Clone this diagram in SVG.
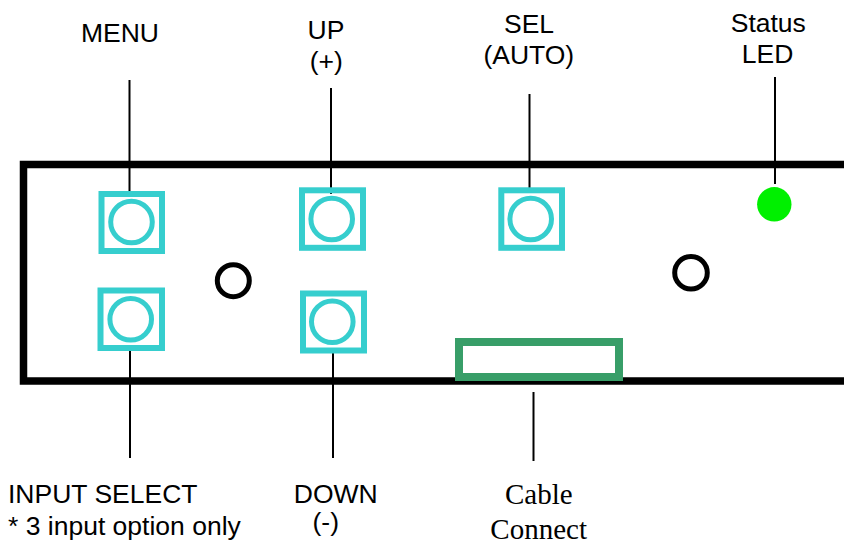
<svg xmlns="http://www.w3.org/2000/svg" width="844" height="544" viewBox="0 0 844 544">
<style>
.btn{fill:none;stroke:#36CECE;stroke-width:6}
.knob{fill:none;stroke:#36CECE;stroke-width:5}
.hole{fill:none;stroke:#000;stroke-width:5}
.lead{stroke:#000;stroke-width:2;fill:none}
.lbl{font-family:"Liberation Sans",Arial,sans-serif;font-size:26.5px;fill:#000}
.lblc{font-family:"Liberation Sans",Arial,sans-serif;font-size:26.5px;fill:#000;text-anchor:middle}
.serif{font-family:"Liberation Serif","Times New Roman",serif;font-size:29px;fill:#000;text-anchor:middle}
</style>
<rect width="844" height="544" fill="#fff"/>
<g id="panel">
<path d="M 850 164.5 H 23.5 V 381 H 850" fill="none" stroke="#000" stroke-width="7.5"/>
</g>
<g id="connectors">
<line class="lead" x1="129.5" y1="80" x2="129.5" y2="194"/>
<line class="lead" x1="130" y1="351" x2="130" y2="458"/>
<line class="lead" x1="331" y1="88" x2="331" y2="194"/>
<line class="lead" x1="333" y1="353" x2="333" y2="458"/>
<line class="lead" x1="529.5" y1="94" x2="529.5" y2="192"/>
<line class="lead" x1="533.5" y1="392" x2="533.5" y2="461"/>
<line class="lead" x1="775" y1="77" x2="775" y2="184"/>
</g>
<g id="menu-button">
<rect class="btn" x="101.5" y="194" width="60.5" height="57"/>
<circle class="knob" cx="131.5" cy="222" r="20.8"/>
</g>
<g id="input-select-button">
<rect class="btn" x="100.5" y="290.5" width="61.5" height="57.5"/>
<circle class="knob" cx="130.7" cy="319.3" r="20.8"/>
</g>
<g id="up-button">
<rect class="btn" x="302" y="190.3" width="61" height="57.5"/>
<circle class="knob" cx="331.7" cy="219" r="20.8"/>
</g>
<g id="down-button">
<rect class="btn" x="303" y="293.5" width="61" height="57"/>
<circle class="knob" cx="332.3" cy="321.7" r="20.8"/>
</g>
<g id="sel-button">
<rect class="btn" x="501.3" y="190.3" width="60.7" height="57.5"/>
<circle class="knob" cx="530.7" cy="219" r="20.8"/>
</g>
<g id="hole-left">
<circle class="hole" cx="233.3" cy="280.7" r="16"/>
</g>
<g id="hole-right">
<circle class="hole" cx="691" cy="272.7" r="16.3"/>
</g>
<g id="status-led">
<circle cx="774.3" cy="204.3" r="17.2" fill="#00F000"/>
</g>
<g id="cable-connect">
<rect x="459" y="342" width="160" height="35" fill="none" stroke="#389E68" stroke-width="8"/>
</g>
<g id="labels">
<text class="lblc" x="120" y="42.3">MENU</text>
<text class="lblc" x="326" y="39.3">UP</text>
<text class="lblc" x="326.3" y="69.5">(+)</text>
<text class="lblc" x="529" y="33.3">SEL</text>
<text class="lblc" x="528.8" y="63.5">(AUTO)</text>
<text class="lblc" x="768.3" y="31.7">Status</text>
<text class="lblc" x="767.5" y="62.7">LED</text>
<text class="lbl" x="8" y="503.3">INPUT SELECT</text>
<text class="lbl" x="8" y="535">* 3 input option only</text>
<text class="lblc" x="335.8" y="503.3">DOWN</text>
<text class="lblc" x="325.8" y="531">(-)</text>
<text class="serif" x="538.8" y="504">Cable</text>
<text class="serif" x="538.7" y="539">Connect</text>
</g>
</svg>
